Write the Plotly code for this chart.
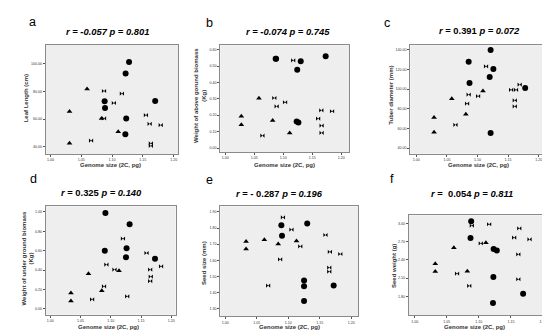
import plotly.graph_objects as go

W, H = 550, 335

# ---------------- data (genome size 2C pg, trait values) ----------------
# panel a: Leaf Length (cm)
a_circ_x = [1.1276, 1.122, 1.088, 1.0886, 1.170, 1.123, 1.1216]
a_circ_y = [101.2, 93.0, 72.8, 67.9, 73.0, 60.4, 49.0]
a_tri_x = [1.031, 1.031, 1.0595, 1.083, 1.110]
a_tri_y = [65.5, 42.4, 81.8, 60.4, 50.7]
a_bow_x = [1.087, 1.116, 1.103, 1.155, 1.087, 1.161, 1.179, 1.066, 1.163, 1.163]
a_bow_y = [80.3, 78.4, 71.6, 62.8, 60.4, 56.5, 55.5, 44.4, 42.4, 40.5]

# panel b: Weight of above ground biomass (Kg)
b_circ_x = [1.0868, 1.0875, 1.130, 1.173, 1.124, 1.123, 1.126]
b_circ_y = [0.545, 0.545, 0.529, 0.559, 0.478, 0.162, 0.155]
b_tri_x = [1.0276, 1.0276, 1.058, 1.0816, 1.111]
b_tri_y = [0.193, 0.142, 0.303, 0.167, 0.092]
b_bow_x = [1.117, 1.0845, 1.103, 1.0885, 1.1655, 1.184, 1.160, 1.166, 1.166, 1.064]
b_bow_y = [0.535, 0.305, 0.279, 0.254, 0.230, 0.224, 0.179, 0.136, 0.092, 0.075]

# panel c: Tuber diameter (mm)
c_circ_x = [1.1215, 1.0856, 1.126, 1.120, 1.087, 1.178, 1.1215]
c_circ_y = [140.0, 128.0, 120.6, 112.4, 106.3, 101.2, 55.3]
c_tri_x = [1.029, 1.029, 1.058, 1.081, 1.109]
c_tri_y = [71.0, 56.0, 90.3, 74.4, 98.2]
c_bow_x = [1.114, 1.169, 1.155, 1.163, 1.0856, 1.101, 1.161, 1.161, 1.083, 1.064]
c_bow_y = [123.3, 104.6, 99.2, 99.2, 94.4, 93.0, 88.6, 82.5, 85.2, 63.5]

# panel d: Weight of under ground biomass (Kg)
d_circ_x = [1.091, 1.131, 1.090, 1.126, 1.125, 1.173]
d_circ_y = [0.990, 0.872, 0.600, 0.624, 0.531, 0.517]
d_tri_x = [1.034, 1.034, 1.063, 1.085, 1.1135]
d_tri_y = [0.162, 0.079, 0.362, 0.186, 0.393]
d_bow_x = [1.120, 1.159, 1.0926, 1.106, 1.165, 1.183, 1.166, 1.165, 1.0887, 1.069, 1.127]
d_bow_y = [0.724, 0.576, 0.455, 0.403, 0.403, 0.438, 0.331, 0.286, 0.231, 0.097, 0.128]

# panel e: Seed size (mm)
e_circ_x = [1.089, 1.130, 1.090, 1.125, 1.125, 1.172, 1.125]
e_circ_y = [1.817, 1.828, 1.753, 1.474, 1.439, 1.443, 1.348]
e_tri_x = [1.033, 1.033, 1.062, 1.084, 1.113]
e_tri_y = [1.716, 1.670, 1.728, 1.701, 1.720]
e_bow_x = [1.0915, 1.105, 1.159, 1.119, 1.166, 1.1825, 1.087, 1.165, 1.165, 1.068]
e_bow_y = [1.867, 1.790, 1.757, 1.687, 1.652, 1.639, 1.606, 1.555, 1.530, 1.443]

# panel f: Seed weight (g)
f_circ_x = [1.088, 1.087, 1.123, 1.128, 1.1226, 1.169, 1.122]
f_circ_y = [3.033, 2.759, 2.578, 2.551, 2.118, 1.844, 1.690]
f_tri_x = [1.032, 1.032, 1.061, 1.082, 1.111]
f_tri_y = [2.337, 2.206, 2.600, 2.211, 2.682]
f_bow_x = [1.089, 1.116, 1.163, 1.155, 1.179, 1.103, 1.1615, 1.066, 1.1615, 1.085]
f_bow_y = [2.962, 2.984, 2.918, 2.764, 2.737, 2.671, 2.490, 2.173, 2.080, 1.970]

x_ticks = [1.00, 1.05, 1.10, 1.15, 1.20]
panel_letters = ["a", "b", "c", "d", "e", "f"]
panel_titles = [
    "<b><i>r = -0.057 p = 0.801</i></b>",
    "<b><i>r = -0.074 p = 0.745</i></b>",
    "<b><i>r</i> = 0.391 <i>p = 0.072</i></b>",
    "<b><i>r</i> = 0.325 <i>p = 0.140</i></b>",
    "<b><i>r</i> = - 0.287 <i>p = 0.196</i></b>",
    "<b><i>r</i> =&nbsp; 0.054 <i>p = 0.811</i></b>",
]
y_titles = [
    "Leaf Length (cm)",
    "Weight of above gorund biomass<br>(Kg)",
    "Tuber diameter (mm)",
    "Weight of under ground biomass<br>(Kg)",
    "Seed size (mm)",
    "Seed weight (g)",
]
x_title = "Genome size (2C, pg)"
y_tickvals = [
    [40, 60, 80, 100],
    [0.0, 0.1, 0.2, 0.3, 0.4, 0.5, 0.6],
    [40, 60, 80, 100, 120, 140],
    [0.0, 0.2, 0.4, 0.6, 0.8, 1.0],
    [1.3, 1.4, 1.5, 1.6, 1.7, 1.8, 1.9],
    [1.8, 2.1, 2.4, 2.7, 3.0],
]

series = [
    (a_circ_x, a_circ_y, a_tri_x, a_tri_y, a_bow_x, a_bow_y),
    (b_circ_x, b_circ_y, b_tri_x, b_tri_y, b_bow_x, b_bow_y),
    (c_circ_x, c_circ_y, c_tri_x, c_tri_y, c_bow_x, c_bow_y),
    (d_circ_x, d_circ_y, d_tri_x, d_tri_y, d_bow_x, d_bow_y),
    (e_circ_x, e_circ_y, e_tri_x, e_tri_y, e_bow_x, e_bow_y),
    (f_circ_x, f_circ_y, f_tri_x, f_tri_y, f_bow_x, f_bow_y),
]

# ---------------- layout (pixel boxes) ----------------
boxes = [  # left, right, top, bottom in px
    (37.7, 170.0, 37.0, 146.0),
    (212.3, 341.0, 37.3, 144.0),
    (402.3, 540.0, 37.3, 145.7),
    (37.7, 167.7, 198.3, 306.7),
    (212.3, 350.0, 198.3, 308.3),
    (400.7, 540.0, 207.3, 307.3),
]
x_ranges = [
    [0.9924, 1.207], [0.9914, 1.2132], [0.9902, 1.2153],
    [0.9923, 1.2072], [0.9921, 1.2106], [0.9906, 1.2078],
]
y_ranges = [
    [34.66, 113.6], [-0.0244, 0.6264], [34.2, 144.76],
    [-0.062, 1.0586], [1.2524, 1.9352], [1.4878, 3.1315],
]
letter_pos = [(24, 14), (201.5, 14.5), (379, 15.5), (25, 171), (201.5, 171.5), (383.5, 171)]
title_pos = [(99.5, 24), (280, 23.7), (471.7, 22.7), (93.7, 184.3), (271.7, 185), (463.7, 185)]
xtitle_pos = [(102, 157), (276.7, 156.7), (470, 156.7), (100, 319), (281.7, 319), (466.7, 319)]
ytitle_pos = [(18.3, 90), (192, 88), (382.7, 87), (19.5, 250), (196, 255), (386, 258)]

fig = go.Figure()
FONT = "Liberation Sans, Arial, sans-serif"
annotations = []
layout_axes = {}

for i in range(6):
    n = "" if i == 0 else str(i + 1)
    xa, ya = "x" + n, "y" + n
    cx, cy, tx, ty, bx, by = series[i]
    fig.add_trace(go.Scatter(x=cx, y=cy, mode="markers", xaxis=xa, yaxis=ya,
                             marker=dict(symbol="circle", size=6, color="black"),
                             showlegend=False, cliponaxis=False))
    fig.add_trace(go.Scatter(x=tx, y=ty, mode="markers", xaxis=xa, yaxis=ya,
                             marker=dict(symbol="triangle-up", size=5, color="black"),
                             showlegend=False, cliponaxis=False))
    fig.add_trace(go.Scatter(x=bx, y=by, mode="markers", xaxis=xa, yaxis=ya,
                             marker=dict(symbol="bowtie", size=4.2, color="black"),
                             showlegend=False, cliponaxis=False))
    l, r, t, b = boxes[i]
    common = dict(showgrid=False, zeroline=False, showline=True, mirror=True,
                  linecolor="#8a8a8a", linewidth=1, ticks="outside", ticklen=2,
                  tickwidth=0.6, tickcolor="#555",
                  tickfont=dict(size=3.6, color="#333", family=FONT))
    layout_axes["xaxis" + n] = dict(common, domain=[l / W, r / W], range=x_ranges[i],
                                    anchor=ya, tickvals=x_ticks, tickformat=".2f")
    layout_axes["yaxis" + n] = dict(common, domain=[1 - b / H, 1 - t / H], range=y_ranges[i],
                                    anchor=xa, tickvals=y_tickvals[i], tickformat=".2f")
    # texts
    lx, ly = letter_pos[i]
    annotations.append(dict(text=panel_letters[i], x=lx / W, y=1 - ly / H, xref="paper", yref="paper",
                            showarrow=False, xanchor="center", yanchor="middle",
                            font=dict(size=12.5, color="black", family=FONT)))
    px_, py_ = title_pos[i]
    annotations.append(dict(text=panel_titles[i], x=px_ / W, y=1 - py_ / H, xref="paper", yref="paper",
                            showarrow=False, xanchor="center", yanchor="middle",
                            font=dict(size=9.4, color="black", family=FONT)))
    qx, qy = xtitle_pos[i]
    annotations.append(dict(text="<b>" + x_title + "</b>", x=qx / W, y=1 - qy / H, xref="paper", yref="paper",
                            showarrow=False, xanchor="center", yanchor="middle",
                            font=dict(size=6, color="#333", family=FONT)))
    sx, sy = ytitle_pos[i]
    annotations.append(dict(text="<b>" + y_titles[i] + "</b>", x=sx / W, y=1 - sy / H, xref="paper", yref="paper",
                            showarrow=False, xanchor="center", yanchor="middle", textangle=-90,
                            font=dict(size=6, color="#333", family=FONT)))

fig.update_layout(
    width=W, height=H, margin=dict(l=0, r=0, t=0, b=0),
    paper_bgcolor="white", plot_bgcolor="#eeeeee",
    annotations=annotations, showlegend=False,
    **layout_axes,
)
fig.write_html("out.html")
